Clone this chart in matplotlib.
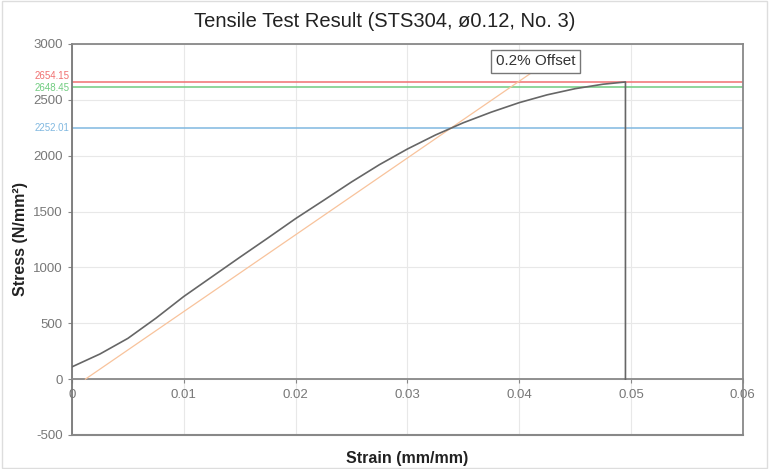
import matplotlib
matplotlib.use('Agg')
import matplotlib.pyplot as plt
from matplotlib.patches import Rectangle

plt.rcParams['font.family'] = ['Liberation Sans', 'DejaVu Sans']
plt.rcParams['axes.unicode_minus'] = False

# 시험 곡선 (strain, stress)
strain = [0, 0.0025, 0.005, 0.0075, 0.01, 0.0125, 0.015, 0.0175, 0.02, 0.0225,
          0.025, 0.0275, 0.03, 0.0325, 0.035, 0.0375, 0.04, 0.0425, 0.045,
          0.0475, 0.0495, 0.0495]
stress = [110, 225, 365, 545, 740, 915, 1090, 1262, 1437, 1600,
          1765, 1920, 2060, 2185, 2295, 2390, 2475, 2545, 2600,
          2640, 2660, 0]

# 0.2% offset line
offset_x = [0.0012, 0.0415]
offset_y = [0, 2770]

# reference levels (label text, line height and label height as seen in the picture)
level_text = ['2654.15', '2648.45', '2252.01']
level_line = [2660, 2612, 2252.01]
level_label = [2712, 2608, 2252.01]
level_colors = ['#f07070', '#70cc80', '#80b8e0']

xticks = [0, 0.01, 0.02, 0.03, 0.04, 0.05, 0.06]
yticks = [-500, 0, 500, 1000, 1500, 2000, 2500, 3000]

fig = plt.figure(figsize=(7.69, 4.69), dpi=100)
ax = fig.add_axes([0.0936, 0.0725, 0.8724, 0.8337])

# 테두리
fig.patches.append(Rectangle((0.003, 0.003), 0.994, 0.994, transform=fig.transFigure,
                             fill=False, edgecolor='#dddddd', linewidth=1))

ax.set_xlim(0, 0.06)
ax.set_ylim(-500, 3000)
ax.set_xticks(xticks)
ax.set_xticklabels(['0', '0.01', '0.02', '0.03', '0.04', '0.05', '0.06'])
ax.set_yticks(yticks)
ax.grid(True, color='#e8e8e8', linewidth=0.8)
ax.set_axisbelow(True)

for lv, c in zip(level_line, level_colors):
    ax.axhline(lv, color=c, linewidth=1.1, zorder=2)
for y, c, t in zip(level_label, level_colors, level_text):
    ax.text(-0.004, y, t, color=c, fontsize=7, ha='right', va='center',
            transform=ax.get_yaxis_transform(), clip_on=False)

ax.plot(offset_x, offset_y, color='#f8c39c', linewidth=0.9, zorder=3)
ax.plot(strain, stress, color='#666666', linewidth=1.2, zorder=4)

ax.text(0.04145, 2844, '0.2% Offset', fontsize=11, color='#333333', ha='center', va='center',
        bbox=dict(boxstyle='square,pad=0.3', facecolor='white', edgecolor='#777777', linewidth=1),
        zorder=6)

# x축을 0에 두고 아래 테두리는 따로
ax.spines['bottom'].set_position(('data', 0))
ax.axhline(-500, color='#888888', linewidth=1.5, clip_on=False, zorder=5)
for side in ['left', 'bottom', 'top', 'right']:
    ax.spines[side].set_color('#888888')
    ax.spines[side].set_linewidth(1.3)
ax.spines['left'].set_color('#777777')

ax.tick_params(axis='both', colors='#888888', labelcolor='#777777', labelsize=9.5, length=3)
ax.tick_params(axis='x', pad=4)

ax.set_xlabel('Strain (mm/mm)', fontsize=11.5, fontweight='bold', color='#222222')
ax.set_ylabel('Stress (N/mm²)', fontsize=11.5, fontweight='bold', color='#222222')
ax.xaxis.set_label_coords(0.5, -0.04)
ax.yaxis.set_label_coords(-0.065, 0.5)
fig.suptitle('Tensile Test Result (STS304, ø0.12, No. 3)', fontsize=14.5, color='#222222', y=0.975)

fig.savefig('out.png', dpi=100)
